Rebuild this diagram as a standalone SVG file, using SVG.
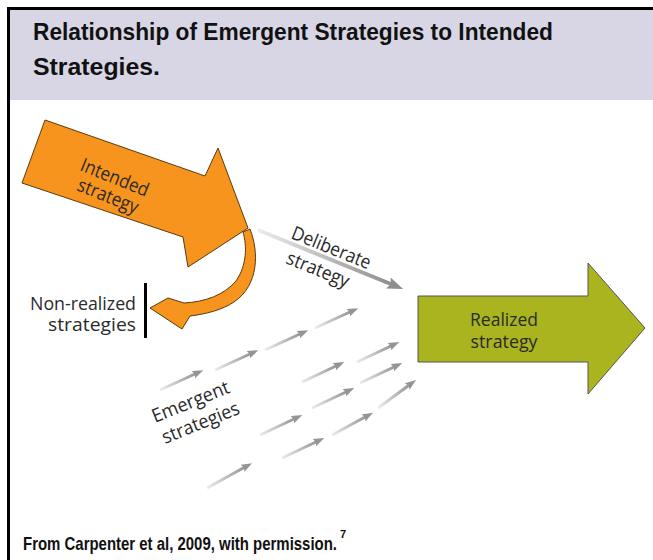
<svg xmlns="http://www.w3.org/2000/svg" width="653" height="560" viewBox="0 0 653 560">
<style>
.ttl{font-family:"Liberation Sans",Arial,sans-serif;font-weight:bold;fill:#111;}
.lbl{font-family:"Open Sans","Noto Sans",sans-serif;fill:#2a2a2a;}
.em{fill:none;stroke:url(#gEm);stroke-width:3;marker-end:url(#ah);}
</style>
<defs>
<linearGradient id="gEm" x1="0" y1="0" x2="1" y2="0">
<stop offset="0" stop-color="#ececec"/>
<stop offset="1" stop-color="#949494"/>
</linearGradient>
<linearGradient id="gDel" x1="0" y1="0" x2="1" y2="0">
<stop offset="0" stop-color="#ececec"/>
<stop offset="1" stop-color="#8e8e8e"/>
</linearGradient>
<marker id="ah" viewBox="0 0 11 8" refX="3" refY="4" markerWidth="11" markerHeight="8" markerUnits="userSpaceOnUse" orient="auto">
<path d="M0,0 L11,4 L0,8 L2,4 Z" fill="#949494"/>
</marker>
<marker id="ahd" viewBox="0 0 16 12" refX="4" refY="6" markerWidth="16" markerHeight="12" markerUnits="userSpaceOnUse" orient="auto">
<path d="M0,0 L16,6 L0,12 L3,6 Z" fill="#8e8e8e"/>
</marker>
</defs>
<rect width="653" height="560" fill="#fff"/>
<g id="header">
<rect x="9" y="9" width="644" height="91" fill="#d8d6e5"/>
<text class="ttl" x="33" y="40" font-size="24" textLength="520" lengthAdjust="spacingAndGlyphs">Relationship of Emergent Strategies to Intended</text>
<text class="ttl" x="33" y="75" font-size="24" textLength="127" lengthAdjust="spacingAndGlyphs">Strategies.</text>
</g>
<path d="M8.5,560 V8.5 H653" fill="none" stroke="#000" stroke-width="3"/>
<g id="intended">
<path d="M45,120 L205,176 L218,148 L248,228 L188,267 L183,237 L22,183 Z" fill="#f7941e" stroke="#5a3a10" stroke-width="1"/>
<text class="lbl" font-size="19" transform="translate(79,170) rotate(22)" textLength="72" lengthAdjust="spacingAndGlyphs">Intended</text>
<text class="lbl" font-size="19" transform="translate(76,190) rotate(22)" textLength="64" lengthAdjust="spacingAndGlyphs">strategy</text>
</g>
<g id="nonrealized">
<path d="M243,232 L250,229 C259,252 259,285 234,302 C222,310 206,314 190,316 L182,329 L150,308 L168,298 L184,303 C205,302 224,295 236,281 C247,265 247,246 243,232 Z" fill="#f7941e" stroke="#5a3a10" stroke-width="1"/>
<rect x="144" y="283" width="3" height="55" fill="#000"/>
<text class="lbl" font-size="18" x="136" y="310" text-anchor="end" textLength="106" lengthAdjust="spacingAndGlyphs">Non-realized</text>
<text class="lbl" font-size="18" x="136" y="331" text-anchor="end" textLength="88" lengthAdjust="spacingAndGlyphs">strategies</text>
</g>
<g id="realized">
<path d="M418,296 H588 V263 L645,328 L588,394 V362 H418 Z" fill="#a9b41f" stroke="#555" stroke-width="1"/>
<text class="lbl" font-size="19" x="504" y="326" text-anchor="middle" textLength="68" lengthAdjust="spacingAndGlyphs">Realized</text>
<text class="lbl" font-size="19" x="504" y="348" text-anchor="middle" textLength="67" lengthAdjust="spacingAndGlyphs">strategy</text>
</g>
<g id="deliberate-label">
<text class="lbl" font-size="19" transform="translate(290,238) rotate(22)" textLength="84" lengthAdjust="spacingAndGlyphs">Deliberate</text>
<text class="lbl" font-size="19" transform="translate(285,263) rotate(22)" textLength="66" lengthAdjust="spacingAndGlyphs">strategy</text>
</g>
<g id="emergent-label">
<text class="lbl" font-size="19" transform="translate(155,423) rotate(-22)" textLength="82" lengthAdjust="spacingAndGlyphs">Emergent</text>
<text class="lbl" font-size="19" transform="translate(165,444) rotate(-22)" textLength="82" lengthAdjust="spacingAndGlyphs">strategies</text>
</g>
<g id="connectors">
<line x1="258" y1="230" x2="392" y2="284.5" stroke="url(#gDel)" stroke-width="4" marker-end="url(#ahd)"/>
<line class="em" x1="160" y1="390" x2="196" y2="373.5"/>
<line class="em" x1="215" y1="370" x2="251" y2="353.5"/>
<line class="em" x1="265" y1="350" x2="301" y2="333.5"/>
<line class="em" x1="315" y1="328" x2="351" y2="311.5"/>
<line class="em" x1="302" y1="382" x2="337" y2="365.5"/>
<line class="em" x1="357" y1="362" x2="392" y2="345.5"/>
<line class="em" x1="260" y1="435" x2="295" y2="418.5"/>
<line class="em" x1="312" y1="408" x2="347" y2="391.5"/>
<line class="em" x1="360" y1="383" x2="395" y2="366.5"/>
<line class="em" x1="282" y1="458" x2="317" y2="441.5"/>
<line class="em" x1="332" y1="435" x2="366" y2="416.5"/>
<line class="em" x1="378" y1="408" x2="409.6" y2="384.8"/>
<line class="em" x1="207" y1="488" x2="245" y2="467"/>
</g>
<g id="footer">
<text class="ttl" x="23" y="550" font-size="19" textLength="314" lengthAdjust="spacingAndGlyphs">From Carpenter et al, 2009, with permission.</text>
<text class="ttl" x="340" y="538" font-size="11">7</text>
</g>
</svg>
